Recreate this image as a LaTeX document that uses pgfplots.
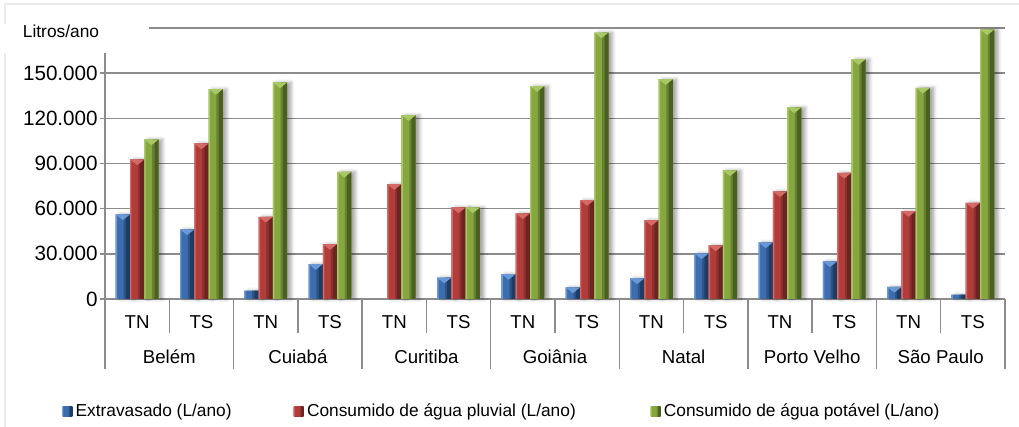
\documentclass[border=0pt]{standalone}
\usepackage{fontspec}
\setmainfont{Liberation Sans}
\usepackage{pgfplots}
\pgfplotsset{compat=1.18}
\usepackage{pgfplotstable}
\usetikzlibrary{shadows.blur}

\definecolor{bL}{HTML}{6A9AD6}\definecolor{bM}{HTML}{3D6DAD}\definecolor{bD}{HTML}{1E3C64}
\definecolor{rL}{HTML}{D46A66}\definecolor{rM}{HTML}{B03D3A}\definecolor{rD}{HTML}{6A2422}
\definecolor{gL}{HTML}{A8C865}\definecolor{gM}{HTML}{86A640}\definecolor{gD}{HTML}{4A5F22}
\definecolor{gridgray}{HTML}{8C8C8C}

\pgfdeclarehorizontalshading{bshade}{100bp}{color(0bp)=(bL); color(25bp)=(bL); color(29bp)=(bM); color(54bp)=(bM); color(62bp)=(bD); color(75bp)=(bD); color(100bp)=(bD)}
\pgfdeclarehorizontalshading{rshade}{100bp}{color(0bp)=(rL); color(25bp)=(rL); color(29bp)=(rM); color(54bp)=(rM); color(62bp)=(rD); color(75bp)=(rD); color(100bp)=(rD)}
\pgfdeclarehorizontalshading{gshade}{100bp}{color(0bp)=(gL); color(25bp)=(gL); color(29bp)=(gM); color(54bp)=(gM); color(62bp)=(gD); color(75bp)=(gD); color(100bp)=(gD)}

\pgfdeclareplotmark{bevel}{%
  \pgfpathmoveto{\pgfqpoint{-5.35pt}{0pt}}%
  \pgfpathlineto{\pgfqpoint{5.35pt}{0pt}}%
  \pgfpathlineto{\pgfqpoint{0pt}{-4.3pt}}%
  \pgfpathclose\pgfusepathqfill}

\pgfplotstableread{
x ext pluv pot
0 56200 92700 106000
1 46200 103300 139400
2 5500 54600 143800
3 23200 36500 84500
4 nan 76300 122100
5 14200 60800 60800
6 16600 56900 141400
7 7700 65700 177000
8 13700 52400 146000
9 30300 35600 85400
10 37600 71500 127200
11 25000 83800 159300
12 8000 58400 140300
13 2900 63900 179000
}\data

\newcommand\tickfont{\fontsize{15.5}{18}\selectfont}
\newcommand\catfont{\fontsize{14}{16}\selectfont}
\newcommand\legfont{\fontsize{13}{15}\selectfont}

\pgfplotsset{
  mainbar/.style={ybar, bar width=0.222, bar shift=#1, draw=none,
    blur shadow={shadow xshift=3pt, shadow yshift=0pt, shadow blur radius=2.5pt, shadow opacity=35}},
  strip/.style n args={3}{ybar, bar width=#2, bar shift=#1, draw=none, fill=#3, forget plot},
}

\begin{document}
\begin{tikzpicture}
\path[use as bounding box] (-78.75pt,-96pt) rectangle (685.5pt,224.25pt);
\draw[black!8, line width=0.8pt] (-75pt,-110pt) |- (700pt,221.25pt);
\begin{axis}[
  at={(0,0)}, anchor=south west,
  scale only axis, width=675pt, height=203.25pt,
  xmin=-0.5, xmax=13.5, ymin=0, ymax=180000,
  clip=false,
  axis x line*=bottom, axis y line*=left,
  axis line style={draw=gridgray, line width=1.2pt},
  ytick={0,30000,60000,90000,120000,150000},
  extra y ticks={180000}, extra y tick labels={},
  extra y tick style={major tick length=0pt},
  ymajorgrids, grid style={gridgray, line width=1.2pt},
  tick align=outside, major tick length=3.75pt,
  ytick style={draw=gridgray, line width=1.2pt},
  scaled y ticks=false,
  /pgf/number format/.cd, fixed, 1000 sep={.}, assume math mode=true, /pgfplots/.cd,
  yticklabel style={font=\tickfont, inner sep=1.5pt},
  xtick={0,...,13}, xticklabels={}, xtick style={draw=none},
  legend columns=3,
  legend style={at={(0,0)}, anchor=west, xshift=-32.25pt, yshift=-84pt,
    draw=none, fill=none, inner sep=0pt, font=\legfont,
    nodes={inner sep=0pt},
    /tikz/every odd column/.append style={column sep=2.5pt},
    /tikz/column 2/.style={column sep=46.5pt},
    /tikz/column 4/.style={column sep=56pt}},
  legend cell align=left,
]
% Extravasado
\addplot[mainbar=-0.222, fill=bM,
  legend image code/.code={\pgfpathrectangle{\pgfpoint{0pt}{-3.75pt}}{\pgfpoint{7.5pt}{7.5pt}}\pgfshadepath{bshade}{0}\pgfusepath{discard}}]
  table[x=x, y=ext] {\data};
\addlegendentry{Extravasado (L/ano)}
\addplot[strip={-0.3219}{0.0222}{bL}] table[x=x, y=ext] {\data};
\addplot[strip={-0.19425}{0.0333}{bM!50!bD}] table[x=x, y=ext] {\data};
\addplot[strip={-0.1443}{0.0666}{bD}] table[x=x, y=ext] {\data};
% pluvial
\addplot[mainbar=0, fill=rM,
  legend image code/.code={\pgfpathrectangle{\pgfpoint{0pt}{-3.75pt}}{\pgfpoint{7.5pt}{7.5pt}}\pgfshadepath{rshade}{0}\pgfusepath{discard}}]
  table[x=x, y=pluv] {\data};
\addlegendentry{Consumido de água pluvial (L/ano)}
\addplot[strip={-0.0999}{0.0222}{rL}] table[x=x, y=pluv] {\data};
\addplot[strip={0.02775}{0.0333}{rM!50!rD}] table[x=x, y=pluv] {\data};
\addplot[strip={0.0777}{0.0666}{rD}] table[x=x, y=pluv] {\data};
% potavel
\addplot[mainbar=0.222, fill=gM,
  legend image code/.code={\pgfpathrectangle{\pgfpoint{0pt}{-3.75pt}}{\pgfpoint{7.5pt}{7.5pt}}\pgfshadepath{gshade}{0}\pgfusepath{discard}}]
  table[x=x, y=pot] {\data};
\addlegendentry{Consumido de água potável (L/ano)}
\addplot[strip={0.1221}{0.0222}{gL}] table[x=x, y=pot] {\data};
\addplot[strip={0.24975}{0.0333}{gM!50!gD}] table[x=x, y=pot] {\data};
\addplot[strip={0.2997}{0.0666}{gD}] table[x=x, y=pot] {\data};
% bevels
\addplot[only marks, mark=bevel, color=bL, forget plot, y filter/.expression={y<6000 ? nan : y}]
  table[x expr=\thisrow{x}-0.222, y=ext] {\data};
\addplot[only marks, mark=bevel, color=rL, forget plot]
  table[x=x, y=pluv] {\data};
\addplot[only marks, mark=bevel, color=gL, forget plot]
  table[x expr=\thisrow{x}+0.222, y=pot] {\data};

\pgfplotsinvokeforeach{0,2,4,6,8,10,12}{\node[font=\catfont] at (axis cs:#1,0) [yshift=-17.25pt] {TN};}
\pgfplotsinvokeforeach{1,3,5,7,9,11,13}{\node[font=\catfont] at (axis cs:#1,0) [yshift=-17.25pt] {TS};}
\pgfplotsinvokeforeach{0.5,2.5,4.5,6.5,8.5,10.5,12.5}{\draw[gridgray, line width=1pt] (axis cs:#1,0) -- ++(0pt,-25.5pt);}
\pgfplotsinvokeforeach{-0.5,1.5,3.5,5.5,7.5,9.5,11.5,13.5}{\draw[gridgray, line width=1pt] (axis cs:#1,0) -- ++(0pt,-52.5pt);}
\node[font=\catfont] at (axis cs:0.5,0) [yshift=-43.5pt] {Belém};
\node[font=\catfont] at (axis cs:2.5,0) [yshift=-43.5pt] {Cuiabá};
\node[font=\catfont] at (axis cs:4.5,0) [yshift=-43.5pt] {Curitiba};
\node[font=\catfont] at (axis cs:6.5,0) [yshift=-43.5pt] {Goiânia};
\node[font=\catfont] at (axis cs:8.5,0) [yshift=-43.5pt] {Natal};
\node[font=\catfont] at (axis cs:10.5,0) [yshift=-43.5pt] {Porto Velho};
\node[font=\catfont] at (axis cs:12.5,0) [yshift=-43.5pt] {São Paulo};
\end{axis}
\fill[white] (-78pt,184.5pt) rectangle (33pt,206pt);
\node[font=\legfont] at (-33pt,201pt) {Litros/ano};
\end{tikzpicture}
\end{document}
